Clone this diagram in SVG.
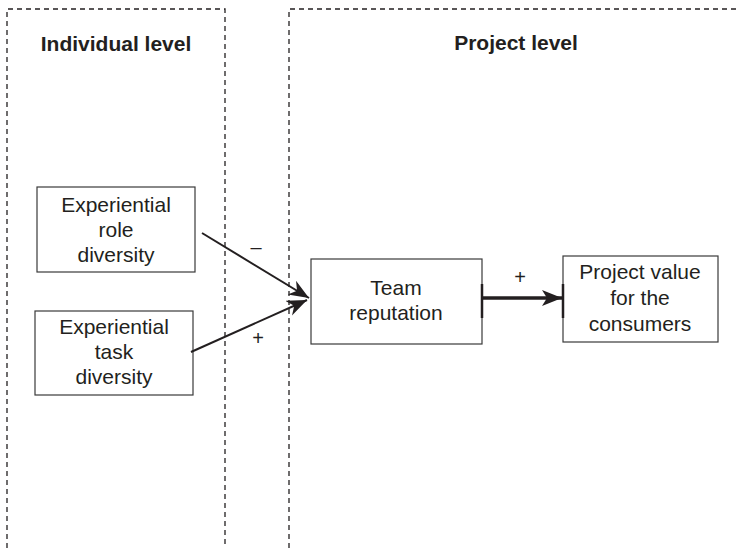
<svg xmlns="http://www.w3.org/2000/svg" width="739" height="548" viewBox="0 0 739 548">
  <style>
    .zone { fill: none; stroke: #231f20; stroke-width: 1.3; stroke-dasharray: 5 4; }
    .title { font-family: "Liberation Sans", Arial, sans-serif; font-size: 21px; font-weight: bold; fill: #231f20; text-anchor: middle; }
    .box { fill: #ffffff; stroke: #3a3a3a; stroke-width: 1.2; }
    .label { font-family: "Liberation Sans", Arial, sans-serif; font-size: 21px; fill: #231f20; text-anchor: middle; }
    .sign { font-family: "Liberation Sans", Arial, sans-serif; font-size: 20px; fill: #231f20; text-anchor: middle; }
    .link { stroke: #231f20; stroke-width: 2; fill: none; }
    .thick { stroke: #231f20; stroke-width: 3.5; fill: none; }
    .tick { stroke: #231f20; stroke-width: 2.5; }
  </style>
  <defs>
    <marker id="head" markerUnits="userSpaceOnUse" markerWidth="22" markerHeight="18" refX="20" refY="8" orient="auto">
      <path d="M0,0 L20,8 L0,16 L6,8 Z" fill="#231f20"/>
    </marker>
    <marker id="headBig" markerUnits="userSpaceOnUse" markerWidth="22" markerHeight="18" refX="20" refY="8" orient="auto">
      <path d="M0,0 L20,8 L0,16 L5,8 Z" fill="#231f20"/>
    </marker>
  </defs>

  <!-- level zones -->
  <g id="zones">
    <path class="zone" d="M7,548 L7,9 L225,9 L225,548"/>
    <path class="zone" d="M289,548 L289,9 L739,9"/>
    <text class="title" x="116" y="51">Individual level</text>
    <text class="title" x="516" y="50">Project level</text>
  </g>

  <!-- nodes -->
  <g id="role-diversity">
    <rect class="box" x="37" y="187" width="158" height="85"/>
    <text class="label" x="116" y="212">Experiential</text>
    <text class="label" x="116" y="237">role</text>
    <text class="label" x="116" y="262">diversity</text>
  </g>
  <g id="task-diversity">
    <rect class="box" x="35" y="311" width="158" height="84"/>
    <text class="label" x="114" y="334">Experiential</text>
    <text class="label" x="114" y="359">task</text>
    <text class="label" x="114" y="384">diversity</text>
  </g>
  <g id="team-reputation">
    <rect class="box" x="311" y="259" width="171" height="85"/>
    <text class="label" x="396" y="295">Team</text>
    <text class="label" x="396" y="320">reputation</text>
  </g>
  <g id="project-value">
    <rect class="box" x="563" y="256" width="155" height="86"/>
    <text class="label" x="640" y="279">Project value</text>
    <text class="label" x="640" y="305">for the</text>
    <text class="label" x="640" y="331">consumers</text>
  </g>

  <!-- connectors -->
  <g id="connectors">
    <line class="link" x1="202" y1="233" x2="309" y2="298" marker-end="url(#head)"/>
    <line class="link" x1="191" y1="352" x2="307" y2="300" marker-end="url(#head)"/>
    <line class="thick" x1="482" y1="298" x2="562" y2="298" marker-end="url(#headBig)"/>
    <line class="tick" x1="482" y1="284" x2="482" y2="318"/>
    <line class="tick" x1="563" y1="284" x2="563" y2="318"/>
    <text class="sign" x="256" y="254">–</text>
    <text class="sign" x="258" y="345">+</text>
    <text class="sign" x="520" y="284">+</text>
  </g>
</svg>
